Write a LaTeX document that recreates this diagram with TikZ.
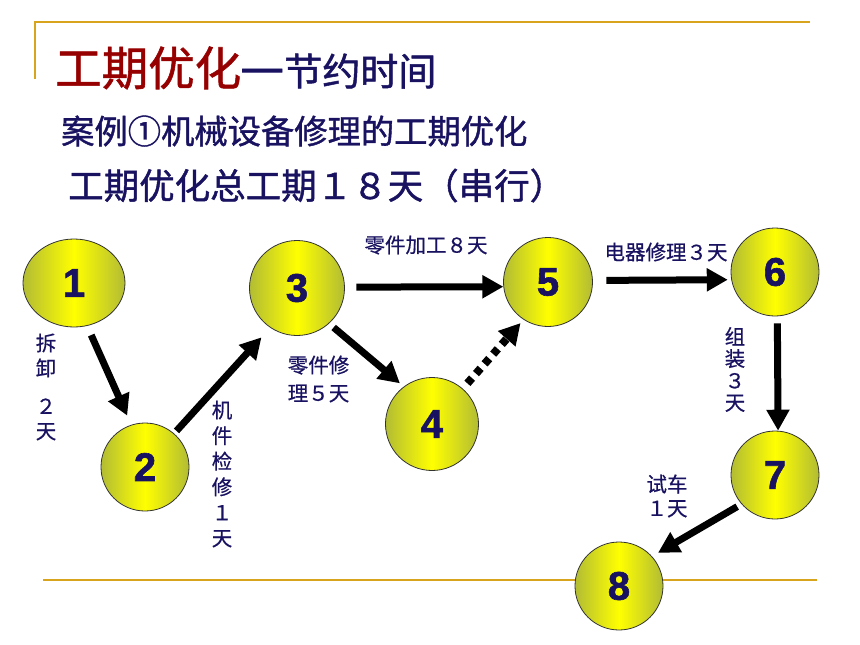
\documentclass[tikz,border=0pt]{standalone}
\usepackage{fontspec}
\setmainfont{Noto Sans CJK SC}[FakeBold=0.6]
\newfontfamily\heavycjk{Noto Sans CJK SC}[FakeBold=1.2]
\newfontfamily\numfont{Liberation Sans}[BoldFeatures={FakeBold=1.5}]
\usetikzlibrary{arrows.meta,shapes.geometric}
\definecolor{navy}{RGB}{24,18,96}
\definecolor{titlered}{RGB}{150,0,0}
\definecolor{gold}{RGB}{216,164,30}
\definecolor{olive}{RGB}{178,188,52}
\definecolor{ballyellow}{RGB}{255,255,0}
\newcommand\myfs[2]{\fontsize{#1}{#2}\selectfont}
\tikzset{
  ball/.style={circle, draw=black!80, line width=0.8pt, inner sep=0pt,
    left color=olive, right color=olive, middle color=ballyellow,
    text=navy, font=\numfont\bfseries\myfs{40}{40}},
  arr/.style={line width=7pt, -{Triangle[length=21pt,width=22pt]}},
  dotarr/.style={line width=8pt, dash pattern=on 7pt off 6pt, -{Triangle[length=21pt,width=22pt]}},
  lbl/.style={text=navy, inner sep=0pt, align=center},
  deco/.style={draw=gold, line width=2pt}
}
\begin{document}
\begin{tikzpicture}[x=1pt,y=-1pt]
\useasboundingbox (0,0) rectangle (860,645);
% decorative lines
\draw[deco] (35,79) -- (35,21.7) -- (810,21.7);
\draw[deco] (43,580) -- (817,580);
% titles
\node[anchor=base west, inner sep=0pt, font=\heavycjk] (title) at (55,85.5)
  {{\color{titlered}\myfs{46.5}{46}工期优化}{\color{navy}\myfs{38}{38}\hspace{-1pt}\scalebox{1.3}[1.4]{—}节约时间}};
\node[anchor=base west, inner sep=0pt, text=navy, font=\heavycjk\myfs{33.3}{34}] (sub1) at (61,143.7) {案例①机械设备修理的工期优化};
\node[anchor=base west, inner sep=0pt, text=navy, font=\heavycjk\myfs{35.5}{36}] (sub2) at (68,199) {工期优化总工期１８天（串行）};
% nodes
\node[ball, ellipse, minimum width=102pt, minimum height=88pt] (n1) at (74,283) {1};
\node[ball, minimum size=88pt] (n2) at (145,467) {2};
\node[ball, minimum size=95pt] (n3) at (297,288) {3};
\node[ball, minimum size=93pt] (n4) at (432,424) {4};
\node[ball, minimum size=89pt] (n5) at (548,282) {5};
\node[ball, minimum size=88pt] (n6) at (775,272) {6};
\node[ball, minimum size=88pt] (n7) at (775,475) {7};
\node[ball, minimum size=88pt] (n8) at (619,586) {8};
% arrows
\draw[arr, shorten <=10pt, shorten >=10pt] (n1.-73) -- (n2.108);
\draw[arr, shorten <=3.5pt, shorten >=13pt] (n2.49) -- (n3.-124);
\draw[arr, shorten <=6pt, shorten >=5pt] (n3.-48) -- (n4.127);
\draw[arr, shorten <=11.5pt, shorten >=0pt] (n3.1) -- (n5.186);
\draw[dotarr, shorten <=7pt, shorten >=4.5pt] (n4.49) -- (n5.-123);
\draw[arr, shorten <=13.5pt, shorten >=3.5pt] (n5.2) -- (n6.190);
\draw[arr, shorten <=7pt, shorten >=0pt] (n6.-87) -- (n7.86);
\draw[arr, shorten <=5pt, shorten >=7pt] (n7.221) -- (n8.42);
% labels
\node[lbl, font=\myfs{20.5}{25}] (l12) at (46,387) {拆\\卸\\[13pt]２\\天};
\node[lbl, font=\myfs{20.5}{25.6}] (l23) at (222,474) {机\\件\\检\\修\\１\\天};
\node[lbl, font=\myfs{20.5}{28}] (l34) at (318.5,379) {零件修\\理５天};
\node[lbl, font=\myfs{20.5}{20}] (l35) at (426,245) {零件加工８天};
\node[lbl, font=\myfs{20.5}{20}] (l56) at (666,252) {电器修理３天};
\node[lbl, font=\myfs{20.5}{22}] (l67) at (735,369.5) {组\\装\\３\\天};
\node[lbl, font=\myfs{20.5}{24}] (l78) at (667,496) {试车\\１天};
\end{tikzpicture}
\end{document}
